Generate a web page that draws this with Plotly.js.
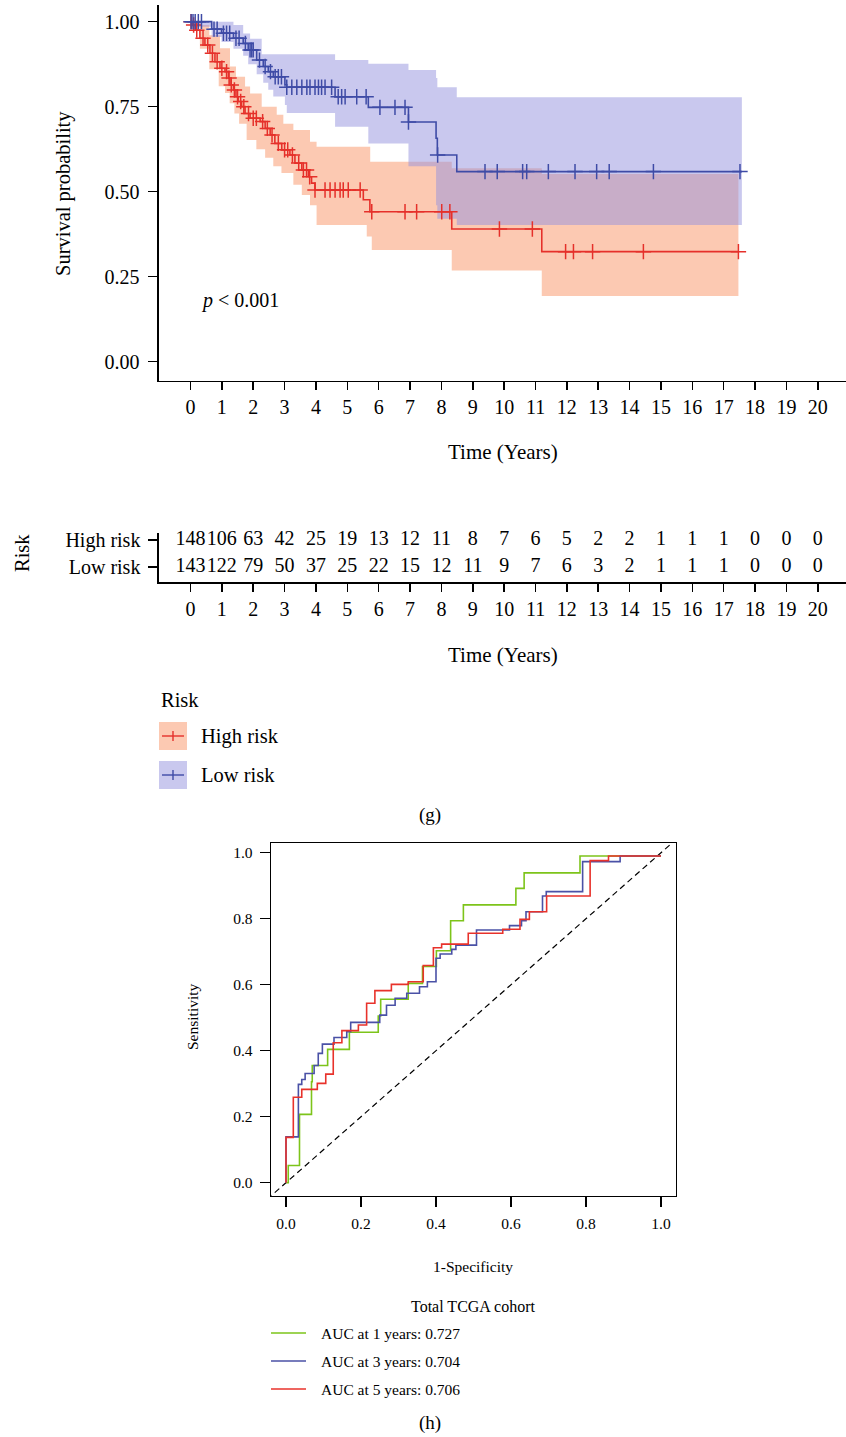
<!DOCTYPE html>
<html><head><meta charset="utf-8">
<script src="https://cdn.plot.ly/plotly-3.0.1.min.js"></script>
<style>html,body{margin:0;padding:0;background:#fff}#chart{width:846px;height:1437px}</style>
</head><body><div id="chart"></div>
<script>
// ---------- Kaplan-Meier data ----------
const highT = [0,0.05,0.15,0.3,0.46,0.62,0.78,0.94,1.10,1.21,1.26,1.37,1.45,1.52,1.63,1.74,1.90,2.22,2.38,2.54,2.69,2.91,3.17,3.33,3.55,3.76,3.86,3.97,5.51,5.72,8.33,11.2,17.47];
const highS = [1.0,0.99,0.975,0.951,0.931,0.907,0.882,0.863,0.853,0.834,0.814,0.799,0.779,0.765,0.75,0.73,0.716,0.706,0.686,0.667,0.642,0.623,0.608,0.584,0.564,0.544,0.525,0.505,0.476,0.441,0.39,0.3235,0.3235];
const lowT = [0,0.675,0.99,1.37,1.68,1.84,2.11,2.32,2.48,2.64,3.01,3.07,4.61,5.67,6.95,7.83,7.87,8.49,17.58];
const lowS = [1.0,0.978,0.966,0.951,0.936,0.917,0.887,0.868,0.853,0.838,0.814,0.807,0.779,0.748,0.705,0.657,0.608,0.559,0.559];

const highCensT = [0.02,0.1,0.2,0.4,0.55,0.7,0.85,1.0,1.15,1.23,1.3,1.4,1.5,1.6,1.7,1.85,2.0,2.1,2.3,2.45,2.6,2.8,3.0,3.1,3.25,3.45,3.6,3.7,3.8,3.97,4.29,4.45,4.61,4.77,4.87,5.03,5.41,5.78,6.84,7.21,8.01,8.27,9.85,10.9,11.96,12.21,12.82,14.44,17.47];
const lowCensT = [0.02,0.08,0.15,0.25,0.35,0.75,0.85,1.05,1.15,1.25,1.45,1.55,1.75,1.9,1.95,2.0,2.2,2.38,2.55,2.7,2.8,2.9,3.07,3.23,3.39,3.55,3.71,3.81,3.97,4.08,4.18,4.29,4.50,4.71,4.82,4.93,5.30,5.60,6.04,6.52,6.84,6.95,7.88,9.39,9.78,10.59,10.72,11.41,12.26,12.95,13.35,14.76,17.52];

const highUpT = [0,0.3,0.6,0.94,1.26,1.45,1.74,1.90,2.27,2.75,2.96,3.28,3.81,4.02,5.73,8.33,11.2,17.47];
const highUpS = [1.0,0.99,0.96,0.922,0.868,0.838,0.809,0.789,0.75,0.726,0.70,0.681,0.647,0.632,0.588,0.569,0.552,0.552];
const highLoT = [0,0.3,0.6,0.9,1.1,1.25,1.4,1.55,1.79,2.1,2.38,2.64,2.9,3.28,3.55,3.81,4.02,5.62,5.78,8.33,11.2,17.47];
const highLoS = [0.985,0.92,0.86,0.81,0.79,0.76,0.73,0.70,0.652,0.625,0.60,0.575,0.555,0.52,0.49,0.46,0.402,0.368,0.3285,0.268,0.193,0.193];
const lowUpT = [0,1.37,1.68,1.9,2.27,4.61,5.67,6.95,7.83,7.87,8.49,17.58];
const lowUpS = [1.0,0.99,0.965,0.95,0.904,0.887,0.876,0.858,0.834,0.807,0.778,0.778];
const lowLoT = [0,0.675,0.99,1.37,1.68,1.84,2.11,2.32,2.48,2.64,3.01,3.07,4.61,5.67,6.95,7.83,7.87,8.49,17.58];
const lowLoS = [0.985,0.955,0.94,0.92,0.90,0.875,0.845,0.82,0.80,0.78,0.755,0.731,0.691,0.642,0.575,0.46,0.42,0.402,0.402];

// ---------- Risk table ----------
const riskTimes = [0,1,2,3,4,5,6,7,8,9,10,11,12,13,14,15,16,17,18,19,20];
const riskHigh = [148,106,63,42,25,19,13,12,11,8,7,6,5,2,2,1,1,1,0,0,0];
const riskLow  = [143,122,79,50,37,25,22,15,12,11,9,7,6,3,2,1,1,1,0,0,0];
const riskLabels = ["High risk","Low risk"];

// ---------- ROC data ----------
const roc1X = [0,0.006,0.036,0.068,0.070,0.111,0.169,0.246,0.2525,0.326,0.364,0.401,0.439,0.473,0.613,0.635,0.784,1.0];
const roc1Y = [0,0.052,0.207,0.306,0.355,0.404,0.456,0.505,0.556,0.604,0.655,0.703,0.794,0.842,0.892,0.939,0.99,0.99];
const roc3X = [0,0.0,0.033,0.042,0.051,0.075,0.086,0.097,0.128,0.162,0.1725,0.25,0.268,0.291,0.322,0.356,0.377,0.4,0.411,0.442,0.453,0.508,0.596,0.628,0.64,0.684,0.694,0.791,0.891,1.0];
const roc3Y = [0,0.139,0.298,0.313,0.331,0.355,0.392,0.420,0.44,0.458,0.486,0.508,0.538,0.559,0.574,0.594,0.609,0.68,0.693,0.707,0.72,0.766,0.779,0.794,0.821,0.869,0.882,0.973,0.99,0.99];
const roc5X = [0,0,0.0195,0.042,0.0835,0.106,0.126,0.149,0.193,0.215,0.237,0.281,0.326,0.366,0.393,0.415,0.486,0.578,0.624,0.649,0.695,0.811,0.86,1.0];
const roc5Y = [0,0.1375,0.259,0.283,0.301,0.329,0.424,0.461,0.478,0.544,0.582,0.601,0.609,0.658,0.712,0.723,0.756,0.768,0.798,0.821,0.869,0.976,0.99,0.99];
const rocNames = ["AUC at 1 years: 0.727","AUC at 3 years: 0.704","AUC at 5 years: 0.706"];

// ---------- styling ----------
const W = 846, H = 1437;
const FONT = "Liberation Serif, Times New Roman, serif";
const RED = "#E5302A", BLUE = "#3E4BA6";
const RED_BAND = "rgba(249,147,101,0.5)", BLUE_BAND = "rgba(147,145,221,0.5)";
const GREEN_ROC = "#7DC41A", BLUE_ROC = "#4A51A6", RED_ROC = "#E8322B";
const KMF = 20, ROCF = 15.5;
const px = v => v / W, py = v => 1 - v / H;

function stepAt(ts, ss, t) {
  let v = ss[0];
  for (let i = 0; i < ts.length; i++) { if (ts[i] <= t) v = ss[i]; }
  return v;
}

const traces = [];
function band(loT, loS, upT, upS, col) {
  traces.push({x: loT, y: loS, xaxis: 'x', yaxis: 'y', mode: 'lines', line: {shape: 'hv', width: 0, color: col}, hoverinfo: 'skip', showlegend: false});
  traces.push({x: upT, y: upS, xaxis: 'x', yaxis: 'y', mode: 'lines', line: {shape: 'hv', width: 0, color: col}, fill: 'tonexty', fillcolor: col, hoverinfo: 'skip', showlegend: false});
}
band(highLoT, highLoS, highUpT, highUpS, RED_BAND);
band(lowLoT, lowLoS, lowUpT, lowUpS, BLUE_BAND);
traces.push({x: highT, y: highS, xaxis: 'x', yaxis: 'y', mode: 'lines', line: {shape: 'hv', width: 1.6, color: RED}, showlegend: false});
traces.push({x: lowT, y: lowS, xaxis: 'x', yaxis: 'y', mode: 'lines', line: {shape: 'hv', width: 1.6, color: BLUE}, showlegend: false});
traces.push({x: highCensT, y: highCensT.map(t => stepAt(highT, highS, t)), xaxis: 'x', yaxis: 'y', mode: 'markers',
  marker: {symbol: 'cross-thin', size: 11, line: {width: 1.5, color: RED}, color: RED}, showlegend: false});
traces.push({x: lowCensT, y: lowCensT.map(t => stepAt(lowT, lowS, t)), xaxis: 'x', yaxis: 'y', mode: 'markers',
  marker: {symbol: 'cross-thin', size: 11, line: {width: 1.5, color: BLUE}, color: BLUE}, showlegend: false});
traces.push({x: riskTimes, y: riskTimes.map(() => 2), text: riskHigh.map(String), xaxis: 'x2', yaxis: 'y2', mode: 'text',
  textfont: {family: FONT, size: KMF, color: '#000'}, cliponaxis: false, showlegend: false, hoverinfo: 'skip'});
traces.push({x: riskTimes, y: riskTimes.map(() => 1), text: riskLow.map(String), xaxis: 'x2', yaxis: 'y2', mode: 'text',
  textfont: {family: FONT, size: KMF, color: '#000'}, cliponaxis: false, showlegend: false, hoverinfo: 'skip'});
traces.push({x: [-0.05, 1.05], y: [-0.05, 1.05], xaxis: 'x3', yaxis: 'y3', mode: 'lines', line: {color: '#000', width: 1.2, dash: '6px,4px'}, showlegend: false});
traces.push({x: roc1X, y: roc1Y, xaxis: 'x3', yaxis: 'y3', mode: 'lines', line: {shape: 'hv', color: GREEN_ROC, width: 1.6}, showlegend: false});
traces.push({x: roc3X, y: roc3Y, xaxis: 'x3', yaxis: 'y3', mode: 'lines', line: {shape: 'hv', color: BLUE_ROC, width: 1.6}, showlegend: false});
traces.push({x: roc5X, y: roc5Y, xaxis: 'x3', yaxis: 'y3', mode: 'lines', line: {shape: 'hv', color: RED_ROC, width: 1.6}, showlegend: false});

const kmX = [-1.004, 20.9];
const axBase = {showgrid: false, zeroline: false, showline: true, linecolor: '#000', linewidth: 1.6, ticks: 'outside', tickcolor: '#000', tickwidth: 1.6, fixedrange: true};

const layout = {
  width: W, height: H, margin: {l: 0, r: 0, t: 0, b: 0},
  paper_bgcolor: '#fff', plot_bgcolor: 'rgba(0,0,0,0)', showlegend: false,
  font: {family: FONT, color: '#000'},
  xaxis: Object.assign({}, axBase, {domain: [px(159), 1], range: kmX, anchor: 'y', tickvals: riskTimes, ticklen: 8, ticklabelstandoff: 0, tickfont: {family: FONT, size: KMF}}),
  yaxis: Object.assign({}, axBase, {domain: [py(380.7), py(5)], range: [-0.056, 1.049], anchor: 'x', tickvals: [0, 0.25, 0.5, 0.75, 1], ticktext: ['0.00', '0.25', '0.50', '0.75', '1.00'], ticklen: 9, ticklabelstandoff: 5, tickfont: {family: FONT, size: KMF}}),
  xaxis2: Object.assign({}, axBase, {domain: [px(159), 1], range: kmX, anchor: 'y2', tickvals: riskTimes, ticklen: 8, ticklabelstandoff: 0, tickfont: {family: FONT, size: KMF}}),
  yaxis2: Object.assign({}, axBase, {domain: [py(582), py(533)], range: [0.427, 2.262], anchor: 'x2', tickvals: [2, 1], ticktext: riskLabels, ticklen: 9, ticklabelstandoff: 4, tickfont: {family: FONT, size: KMF}}),
  xaxis3: Object.assign({}, axBase, {domain: [px(271), px(676)], range: [-0.04, 1.04], anchor: 'y3', mirror: true, linewidth: 1.3, tickwidth: 1.3, tickvals: [0, 0.2, 0.4, 0.6, 0.8, 1.0], ticktext: ['0.0', '0.2', '0.4', '0.6', '0.8', '1.0'], ticklen: 10, ticklabelstandoff: 3, tickfont: {family: FONT, size: ROCF}}),
  yaxis3: Object.assign({}, axBase, {domain: [py(1195.6), py(843.3)], range: [-0.039, 1.0285], anchor: 'x3', mirror: true, linewidth: 1.3, tickwidth: 1.3, tickvals: [0, 0.2, 0.4, 0.6, 0.8, 1.0], ticktext: ['0.0', '0.2', '0.4', '0.6', '0.8', '1.0'], ticklen: 10, ticklabelstandoff: 4, tickfont: {family: FONT, size: ROCF}}),
  shapes: [],
  annotations: []
};

function ann(text, x, y, size, opts) {
  layout.annotations.push(Object.assign({text: text, x: px(x), y: py(y), xref: 'paper', yref: 'paper', showarrow: false,
    font: {family: FONT, size: size, color: '#000'}, xanchor: 'center', yanchor: 'middle'}, opts || {}));
}
ann('Survival probability', 64, 194, 20.5, {textangle: -90});
ann('Time (Years)', 503, 452, 21);
ann('<i>p</i> < 0.001', 199, 300, 20, {xanchor: 'left'});
ann('Risk', 22, 553, 20.5, {textangle: -90});
ann('Time (Years)', 503, 655, 21);
ann('Risk', 159, 700, 20.5, {xanchor: 'left'});
ann(riskLabels[0], 199, 736, 20.5, {xanchor: 'left'});
ann(riskLabels[1], 199, 775, 20.5, {xanchor: 'left'});
ann('(g)', 430, 815, 19);
ann('Sensitivity', 192, 1017, ROCF, {textangle: -90});
ann('1-Specificity', 473, 1266, ROCF);
ann('Total TCGA cohort', 473, 1306, 16);
ann(rocNames[0], 319, 1333, ROCF, {xanchor: 'left'});
ann(rocNames[1], 319, 1361, ROCF, {xanchor: 'left'});
ann(rocNames[2], 319, 1389, ROCF, {xanchor: 'left'});
ann('(h)', 430, 1423, 19);

function key(yc, band, col) {
  layout.shapes.push({type: 'rect', xref: 'paper', yref: 'paper', x0: px(159), x1: px(187), y0: py(yc + 14), y1: py(yc - 14), fillcolor: band, line: {width: 0}});
  layout.shapes.push({type: 'line', xref: 'paper', yref: 'paper', x0: px(162), x1: px(184), y0: py(yc), y1: py(yc), line: {color: col, width: 1.4}});
  layout.shapes.push({type: 'line', xref: 'paper', yref: 'paper', x0: px(173), x1: px(173), y0: py(yc - 5), y1: py(yc + 5), line: {color: col, width: 1.4}});
}
key(736, RED_BAND, RED);
key(775, BLUE_BAND, BLUE);
[[1333, GREEN_ROC], [1361, BLUE_ROC], [1389, RED_ROC]].forEach(([yc, c]) => {
  layout.shapes.push({type: 'line', xref: 'paper', yref: 'paper', x0: px(271), x1: px(306), y0: py(yc), y1: py(yc), line: {color: c, width: 1.4}});
});

Plotly.newPlot('chart', traces, layout, {staticPlot: true, displayModeBar: false});
</script></body></html>
